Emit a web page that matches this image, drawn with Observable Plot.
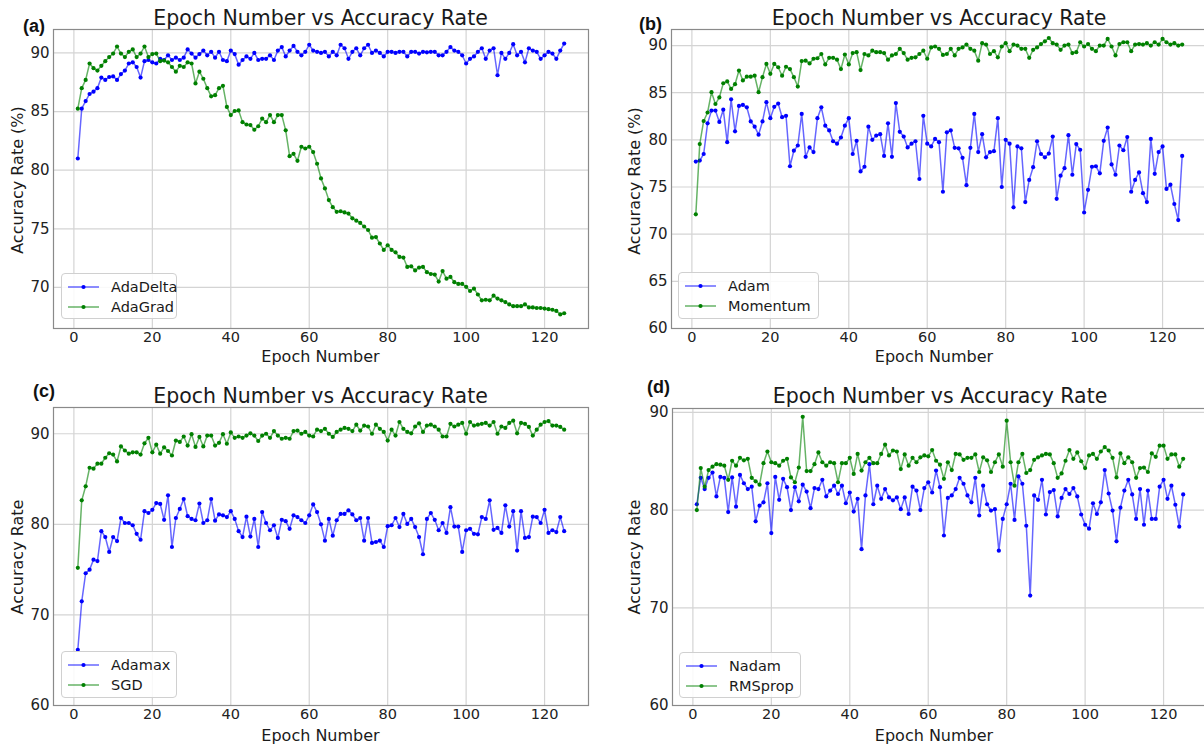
<!DOCTYPE html>
<html>
<head>
<meta charset="utf-8">
<script src="https://cdn.jsdelivr.net/npm/d3@7"></script>
<script src="https://cdn.jsdelivr.net/npm/@observablehq/plot@0.6"></script>
<style>
  html, body { margin: 0; padding: 0; background: #fff; }
  #root { position: relative; width: 1204px; height: 745px; overflow: hidden; font-family: "DejaVu Sans", sans-serif; color: #1a1a1a; }
  .abs { position: absolute; white-space: nowrap; line-height: 1; }
  .c { transform: translate(-50%, -50%); }
  .title { font-size: 20.5px; }
  .xl { font-size: 16px; }
  .yl { font-size: 16px; transform: translate(-50%, -50%) rotate(-90deg); }
  .tag { font-family: "Liberation Sans", Arial, sans-serif; font-weight: bold; font-size: 18px; color: #111; }
  .legend { position: absolute; border: 1px solid #d0d0d0; border-radius: 4px; background: rgba(255,255,255,0.85); font-size: 14.5px; box-sizing: border-box; }
  .legend .row { position: absolute; left: 0; display: flex; align-items: center; }
  svg { overflow: visible; }
</style>
</head>
<body>
<div id="root"></div>
<script>
// ---------------- data ----------------
const epochs = d3.range(1, 126);
const xTicks = [0, 20, 40, 60, 80, 100, 120];

const adaDelta = [
  81.0, 85.25, 85.9, 86.5, 86.7, 87.0, 87.9, 87.7, 87.95, 88.0,
  87.7, 88.2, 88.5, 89.1, 89.2, 88.8, 87.9, 89.3, 89.4, 89.2,
  89.1, 89.5, 89.4, 89.8, 89.4, 89.6, 89.4, 89.6, 90.3, 89.95,
  89.6, 89.9, 90.2, 89.8, 90.1, 89.6, 90.1, 89.4, 89.3, 90.2,
  89.9, 89.0, 89.4, 89.7, 89.5, 90.0, 89.4, 89.5, 89.5, 89.8,
  89.4, 90.2, 90.5, 89.7, 90.2, 90.6, 90.1, 89.8, 90.1, 90.7,
  90.2, 90.1, 90.0, 90.1, 89.7, 90.1, 89.8, 90.7, 90.4, 89.5,
  90.1, 90.4, 89.8, 90.4, 90.7, 90.0, 90.2, 90.0, 89.7, 90.1,
  90.1, 90.0, 90.1, 90.1, 89.7, 90.1, 90.1, 89.95, 90.1, 90.05,
  90.1, 90.1, 89.8, 89.8, 90.1, 90.5, 90.2, 90.1, 89.8, 89.1,
  89.5, 89.7, 90.1, 90.4, 89.5, 90.2, 90.4, 88.1, 90.0, 89.5,
  90.0, 90.75, 89.8, 90.1, 89.2, 90.4, 90.2, 90.1, 89.5, 89.8,
  90.1, 89.95, 89.5, 90.2, 90.8
];
const adaGrad = [
  85.25, 87.0, 87.7, 89.1, 88.7, 88.5, 88.9, 89.3, 89.65, 89.95,
  90.55, 89.95, 89.65, 90.1, 90.3, 89.65, 89.95, 90.55, 89.65, 89.9,
  89.95, 89.3, 89.35, 89.2, 88.8, 88.4, 88.9, 88.8, 89.2, 89.1,
  87.4, 88.4, 87.8, 87.0, 86.3, 86.4, 87.0, 87.2, 85.4, 84.7,
  85.05, 85.1, 84.1, 83.9, 83.85, 83.45, 83.75, 84.4, 84.1, 84.7,
  84.1, 84.7, 84.7, 83.4, 81.2, 81.4, 80.8, 82.0, 81.85, 82.0,
  81.55, 80.55, 79.3, 78.45, 77.45, 76.85, 76.45, 76.5, 76.4, 76.3,
  75.9, 75.7, 75.5, 75.2, 74.9, 74.25, 74.3, 73.75, 73.2, 73.6,
  73.2, 73.0, 72.6, 72.55, 71.75, 71.8, 71.45, 71.7, 71.75, 71.3,
  71.15, 71.1, 70.5, 71.4, 70.75, 70.9, 70.45, 70.3, 70.3, 70.05,
  69.7, 69.9, 69.4, 68.9, 68.95, 68.9, 69.3, 69.05, 68.9, 68.75,
  68.55, 68.4, 68.4, 68.4, 68.55, 68.3, 68.3, 68.25, 68.25, 68.2,
  68.15, 68.1, 68.0, 67.7, 67.8
];
const adam = [
  77.7, 77.8, 78.5, 81.75, 83.1, 83.1, 81.9, 83.2, 79.75, 84.3,
  80.9, 83.6, 83.7, 83.45, 81.95, 81.4, 80.55, 81.95, 84.0, 82.3,
  83.5, 83.85, 82.4, 82.55, 77.2, 78.85, 79.4, 82.75, 78.2, 79.2,
  78.7, 82.3, 83.45, 81.5, 81.0, 79.85, 79.6, 80.25, 81.5, 82.3,
  78.5, 79.9, 76.65, 77.15, 81.4, 80.0, 80.45, 80.6, 78.3, 81.75,
  78.2, 83.9, 80.85, 80.35, 79.2, 79.6, 79.85, 75.85, 82.55, 79.6,
  79.3, 80.1, 79.75, 74.5, 80.8, 81.0, 79.15, 79.1, 78.1, 75.2,
  79.15, 82.75, 78.7, 80.6, 78.15, 78.7, 78.8, 82.3, 75.0, 80.0,
  79.6, 72.85, 79.3, 79.1, 73.4, 75.75, 77.1, 79.85, 78.5, 78.15,
  78.55, 80.35, 73.75, 76.2, 77.0, 80.5, 76.3, 79.55, 78.95, 72.3,
  74.7, 77.15, 77.2, 76.45, 79.9, 81.3, 77.4, 76.3, 79.4, 78.9,
  80.3, 74.5, 75.75, 76.55, 74.35, 73.4, 80.1, 76.4, 78.7, 79.3,
  74.8, 75.25, 73.2, 71.5, 78.3
];
const momentum = [
  72.1, 79.55, 82.0, 82.9, 85.05, 83.8, 84.5, 86.0, 86.2, 85.4,
  85.9, 87.35, 86.3, 86.7, 86.7, 86.8, 85.05, 86.65, 88.05, 87.0,
  88.05, 87.7, 86.8, 87.75, 87.5, 86.65, 85.65, 88.35, 88.4, 88.1,
  88.6, 88.65, 89.1, 88.0, 88.7, 88.7, 88.5, 87.5, 89.05, 88.0,
  89.2, 89.3, 87.4, 89.1, 88.95, 89.45, 89.3, 89.3, 89.2, 88.5,
  88.95, 89.1, 89.65, 89.2, 88.5, 88.7, 88.75, 89.1, 89.45, 88.6,
  89.8, 89.9, 89.65, 89.0, 89.1, 89.65, 88.95, 89.65, 89.8, 90.1,
  89.65, 89.45, 88.4, 90.25, 90.1, 89.1, 89.4, 88.75, 89.9, 90.25,
  89.4, 90.1, 90.0, 89.65, 89.65, 88.7, 89.55, 89.8, 90.15, 90.45,
  90.8, 90.25, 90.1, 89.55, 90.0, 90.1, 89.2, 89.3, 90.35, 89.9,
  90.15, 89.65, 89.4, 90.0, 90.0, 90.7, 89.9, 88.95, 90.15, 90.35,
  90.35, 89.4, 90.1, 90.15, 90.1, 90.25, 90.0, 90.35, 90.1, 90.7,
  90.35, 90.1, 90.25, 90.0, 90.1
];
const adamax = [
  66.15, 71.5, 74.6, 75.0, 76.1, 75.95, 79.25, 78.6, 76.95, 78.6,
  78.15, 80.7, 80.15, 80.15, 79.9, 78.95, 78.3, 81.45, 81.25, 81.6,
  82.35, 82.25, 80.5, 83.2, 77.5, 80.7, 81.7, 82.8, 80.9, 80.6,
  80.45, 82.3, 80.15, 80.45, 82.8, 80.4, 81.1, 81.0, 80.8, 81.45,
  80.6, 79.25, 78.6, 80.85, 78.65, 80.6, 77.5, 81.35, 80.15, 79.35,
  79.9, 78.5, 80.5, 80.35, 79.5, 81.0, 80.8, 80.45, 80.15, 81.0,
  82.2, 81.35, 80.0, 78.2, 80.6, 78.75, 80.45, 81.15, 81.15, 81.55,
  81.1, 80.45, 80.7, 78.2, 80.7, 77.95, 78.05, 78.2, 77.5, 79.8,
  79.9, 80.7, 79.7, 81.15, 80.05, 80.6, 79.7, 78.6, 76.7, 80.6,
  81.25, 80.5, 79.35, 80.15, 79.05, 81.9, 79.75, 79.75, 76.95, 79.35,
  79.5, 78.95, 78.9, 80.8, 80.6, 82.65, 79.4, 79.6, 79.05, 82.1,
  79.75, 81.45, 77.1, 81.45, 78.5, 78.6, 80.85, 80.8, 80.15, 81.6,
  79.05, 79.35, 79.15, 80.8, 79.25
];
const sgd = [
  75.2, 82.65, 84.2, 86.25, 86.15, 86.7, 86.7, 87.35, 87.85, 87.7,
  86.95, 88.6, 88.15, 87.8, 87.95, 87.95, 87.7, 88.95, 89.55, 87.95,
  88.8, 87.8, 88.5, 88.1, 87.6, 89.25, 89.1, 89.7, 88.7, 89.95,
  88.55, 89.65, 88.6, 89.8, 89.8, 88.7, 89.0, 89.95, 88.9, 90.15,
  89.55, 89.7, 89.55, 89.8, 90.05, 89.8, 89.2, 89.8, 90.0, 89.55,
  90.3, 89.8, 89.45, 89.55, 89.45, 90.3, 90.35, 90.0, 90.2, 89.8,
  89.7, 90.45, 90.3, 90.55, 90.0, 89.65, 90.2, 90.45, 90.65, 90.55,
  90.3, 91.0, 90.35, 90.9, 90.8, 90.0, 91.0, 90.55, 90.2, 89.25,
  90.45, 89.8, 91.3, 90.55, 90.2, 90.05, 90.8, 91.15, 90.2, 90.9,
  91.0, 90.8, 90.45, 89.7, 89.7, 91.1, 90.8, 91.0, 91.2, 90.0,
  91.3, 90.9, 91.0, 91.1, 91.2, 90.9, 91.3, 90.0, 90.8, 90.65,
  91.2, 91.45, 90.05, 91.2, 91.1, 90.75, 89.8, 90.45, 91.0, 91.3,
  91.4, 90.9, 90.9, 90.75, 90.45
];
const nadam = [
  80.6, 83.3, 82.15, 83.3, 83.85, 81.4, 83.4, 83.3, 79.8, 83.35,
  80.35, 83.6, 82.75, 82.15, 82.4, 78.85, 80.45, 80.8, 82.75, 77.65,
  83.4, 81.05, 83.2, 82.35, 80.0, 82.35, 80.9, 82.6, 81.9, 80.2,
  82.25, 82.15, 83.1, 81.4, 82.0, 82.5, 81.65, 82.5, 80.7, 81.8,
  79.85, 81.15, 76.0, 81.5, 84.7, 80.6, 82.5, 81.15, 82.15, 81.3,
  81.0, 81.3, 80.1, 81.3, 79.6, 82.4, 82.0, 80.0, 82.25, 82.85,
  81.8, 84.05, 82.35, 77.4, 81.25, 81.5, 82.15, 83.3, 82.7, 81.5,
  80.8, 83.3, 79.45, 82.5, 80.6, 79.95, 80.1, 75.85, 79.1, 80.6,
  82.7, 79.0, 83.45, 82.7, 78.4, 71.25, 81.5, 81.05, 83.1, 79.55,
  81.85, 82.05, 79.35, 81.25, 82.15, 81.65, 82.25, 81.4, 79.55, 78.5,
  78.1, 80.7, 79.6, 80.8, 84.1, 81.7, 79.95, 76.8, 80.25, 82.0,
  83.1, 81.6, 79.1, 82.15, 78.5, 82.0, 79.1, 79.1, 82.4, 83.1,
  81.15, 82.5, 80.55, 78.3, 81.6
];
const rmsprop = [
  80.0, 84.3, 82.4, 84.1, 84.45, 84.7, 84.65, 84.55, 83.1, 85.05,
  84.55, 85.35, 85.1, 85.25, 83.3, 82.95, 82.6, 84.8, 86.0, 84.9,
  84.8, 84.55, 85.05, 85.25, 83.35, 82.85, 84.35, 89.55, 84.0, 84.0,
  84.7, 85.9, 84.9, 84.55, 84.9, 84.8, 82.85, 84.8, 84.8, 85.35,
  83.7, 85.75, 84.05, 84.9, 85.35, 84.8, 84.8, 85.75, 86.7, 85.6,
  86.1, 86.0, 84.2, 85.7, 84.55, 85.35, 84.9, 85.4, 85.6, 85.5,
  86.15, 85.05, 84.65, 83.2, 84.9, 84.1, 85.75, 85.7, 85.15, 85.35,
  85.35, 85.7, 83.9, 85.4, 85.1, 83.9, 84.9, 85.7, 84.45, 89.15,
  84.9, 82.5, 84.9, 85.75, 83.8, 84.1, 85.15, 85.4, 85.6, 85.75,
  85.7, 84.8, 83.3, 83.75, 85.05, 86.15, 85.25, 85.9, 85.0, 84.3,
  85.6, 85.75, 85.25, 86.0, 86.45, 86.1, 85.35, 83.35, 85.8, 84.8,
  85.4, 84.9, 83.3, 84.3, 84.35, 83.9, 85.8, 85.45, 86.6, 86.6,
  85.25, 85.7, 85.7, 84.45, 85.25
];

const yTicksA = [70, 75, 80, 85, 90];
const yTicksB = [60, 65, 70, 75, 80, 85, 90];
const yTicksC = [60, 70, 80, 90];
const yTicksD = [60, 70, 80, 90];

const BLUE = "#0000ff", GREEN = "#008000";

// ---------------- layout ----------------
const panels = [
  { tag: "(a)", names: ["AdaDelta", "AdaGrad"], series: [adaDelta, adaGrad], yTicks: yTicksA, yDomain: [66.5, 92.0], ylabel: "Accuracy Rate (%)",
    frame: { left: 53, top: 29, h: 299 }, titleX: 320.5, titleY: 18, xlX: 320.5, xlY: 357, ylX: 18, ylY: 180, tagX: 23, tagY: 17,
    legend: { left: 61, top: 273, w: 116, h: 46 } },
  { tag: "(b)", names: ["Adam", "Momentum"], series: [adam, momentum], yTicks: yTicksB, yDomain: [60, 91.7], ylabel: "Accuracy Rate (%)",
    frame: { left: 671, top: 29, h: 299 }, titleX: 939, titleY: 18, xlX: 934, xlY: 357, ylX: 635, ylY: 181, tagX: 639, tagY: 15,
    legend: { left: 678, top: 272, w: 141, h: 47 } },
  { tag: "(c)", names: ["Adamax", "SGD"], series: [adamax, sgd], yTicks: yTicksC, yDomain: [60, 92.9], ylabel: "Accuracy Rate",
    frame: { left: 53, top: 407, h: 298 }, titleX: 320.5, titleY: 396, xlX: 320.5, xlY: 736, ylX: 18, ylY: 557, tagX: 33, tagY: 382,
    legend: { left: 61, top: 651, w: 116, h: 47 } },
  { tag: "(d)", names: ["Nadam", "RMSprop"], series: [nadam, rmsprop], yTicks: yTicksD, yDomain: [60, 90.4], ylabel: "Accuracy Rate",
    frame: { left: 672, top: 408, h: 297 }, titleX: 940, titleY: 396, xlX: 934, xlY: 736, ylX: 635, ylY: 557, tagX: 647, tagY: 378,
    legend: { left: 679, top: 652, w: 122, h: 46 } }
];

const root = document.getElementById("root");
const mL = 53, mR = 14, mT = 29, mB = 40, plotW = 535;

function addText(cls, text, x, y, centered = true) {
  const d = document.createElement("div");
  d.className = "abs " + cls + (centered && cls !== "yl" ? " c" : "");
  d.textContent = text;
  d.style.left = x + "px";
  d.style.top = y + "px";
  root.appendChild(d);
  return d;
}

for (const p of panels) {
  const colors = [BLUE, GREEN];
  const data = [];
  p.series.forEach((vals, si) => {
    vals.forEach((v, i) => data.push({ epoch: epochs[i], value: v, name: p.names[si], color: colors[si] }));
  });
  const marks = [
    Plot.gridX(xTicks, { stroke: "#d4d4d4", strokeOpacity: 1, strokeWidth: 1.2 }),
    Plot.gridY(p.yTicks, { stroke: "#d4d4d4", strokeOpacity: 1, strokeWidth: 1.2 }),
    Plot.axisX(xTicks, { tickSize: 0, tickPadding: 3, label: null, fontSize: 14.5, fill: "#222" }),
    Plot.axisY(p.yTicks, { tickSize: 0, tickPadding: 4, label: null, fontSize: 15, fill: "#222" })
  ];
  p.names.forEach((nm, si) => {
    const sub = data.filter(d => d.name === nm);
    marks.push(Plot.line(sub, { x: "epoch", y: "value", stroke: colors[si], strokeOpacity: 0.6, strokeWidth: 1.5 }));
    marks.push(Plot.dot(sub, { x: "epoch", y: "value", fill: colors[si], r: 2.1, stroke: "none" }));
  });
  marks.push(Plot.frame({ stroke: "#8a8a8a", strokeWidth: 1.2 }));

  const svg = Plot.plot({
    width: mL + plotW + mR,
    height: mT + p.frame.h + mB,
    marginLeft: mL, marginRight: mR, marginTop: mT, marginBottom: mB,
    x: { domain: [-5.2, 131.2] },
    y: { domain: p.yDomain },
    style: { fontFamily: "DejaVu Sans", fontSize: "15px", background: "transparent", color: "#222" },
    marks
  });
  svg.style.position = "absolute";
  svg.style.left = (p.frame.left - mL) + "px";
  svg.style.top = (p.frame.top - mT) + "px";
  root.appendChild(svg);

  addText("title", "Epoch Number vs Accuracy Rate", p.titleX, p.titleY);
  addText("xl", "Epoch Number", p.xlX, p.xlY);
  addText("yl", p.ylabel, p.ylX, p.ylY);
  addText("tag", p.tag, p.tagX, p.tagY, false);

  // legend
  const lg = document.createElement("div");
  lg.className = "legend";
  Object.assign(lg.style, { left: p.legend.left + "px", top: p.legend.top + "px", width: p.legend.w + "px", height: p.legend.h + "px" });
  p.names.forEach((nm, si) => {
    const row = document.createElement("div");
    row.className = "row";
    row.style.top = (si === 0 ? 4 : 24) + "px";
    row.style.height = "18px";
    row.innerHTML = `<svg width="44" height="18" style="overflow:visible"><line x1="6" x2="37" y1="9" y2="9" stroke="${colors[si]}" stroke-opacity="0.6" stroke-width="1.5"/><circle cx="21.5" cy="9" r="2.1" fill="${colors[si]}"/></svg><span style="margin-left:5px">${nm}</span>`;
    lg.appendChild(row);
  });
  root.appendChild(lg);
}
</script>
</body>
</html>
